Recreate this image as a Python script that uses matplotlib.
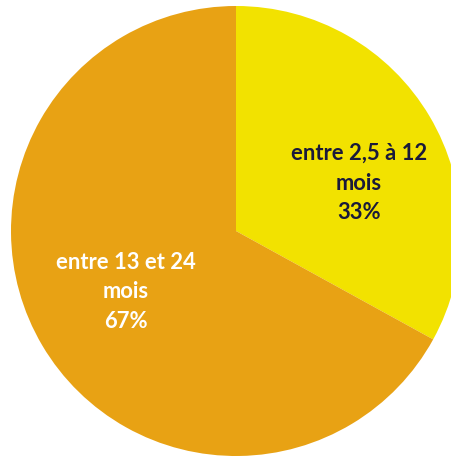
import matplotlib
matplotlib.use("Agg")
import matplotlib.pyplot as plt

categories = ["entre 2,5 à 12\nmois", "entre 13 et 24\nmois"]
values = [33, 67]
colors = ["#F2E200", "#E8A214"]
text_colors = ["#1a1a3a", "#ffffff"]

W, H = 451, 461
cx, cy, r = 236, 231, 225  # pixel layout of the pie

fig = plt.figure(figsize=(W / 100, H / 100), dpi=100)
ax = fig.add_axes([0, 0, 1, 1])
ax.pie(values, colors=colors, startangle=90, counterclock=False,
       wedgeprops=dict(linewidth=0))
ax.set_xlim(-cx / r, (W - cx) / r)
ax.set_ylim(-(H - cy) / r, cy / r)
ax.set_aspect("auto")
ax.axis("off")

label_pos = [((359 - cx) / r, (cy - 183) / r), ((126 - cx) / r, (cy - 292) / r)]
for cat, val, tc, (x, y) in zip(categories, values, text_colors, label_pos):
    ax.text(x, y, f"{cat}\n{val}%", ha="center", va="center", color=tc,
            fontsize=15.8, fontweight="bold", family="Lato", linespacing=1.5)

fig.savefig("out.png", dpi=100, facecolor="white")
